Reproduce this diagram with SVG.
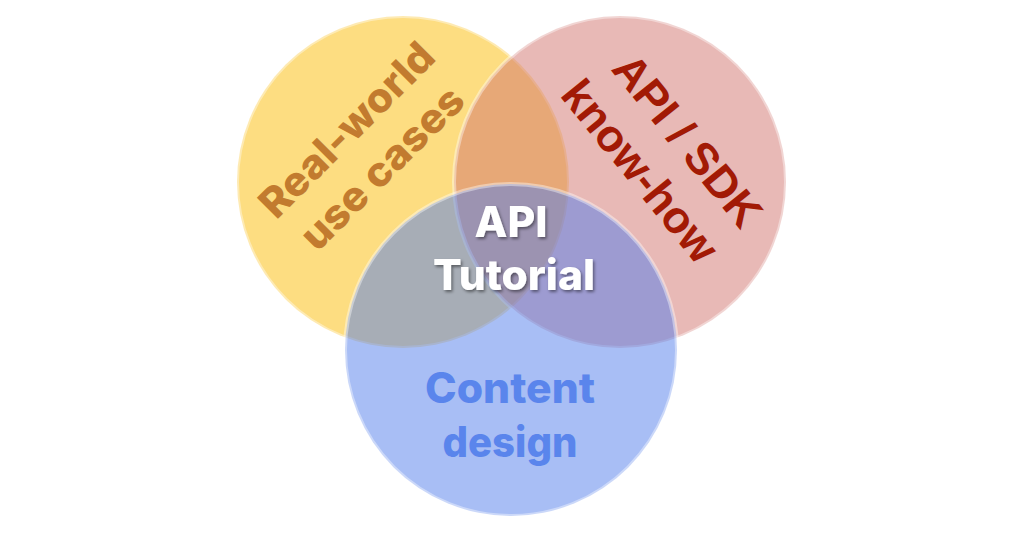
<svg xmlns="http://www.w3.org/2000/svg" width="1024" height="547" viewBox="0 0 1024 547">
<defs>
<style>
.c{fill-opacity:0.5;stroke:#ffffff;stroke-opacity:0.4;stroke-width:4}
.t{font-family:Inter,"Open Sans","Liberation Sans",sans-serif;font-weight:800;text-anchor:middle}
.r{font-family:"Liberation Sans",Arial,sans-serif;font-weight:700;text-anchor:middle;fill:#A21A05}
</style>
<filter id="sh" x="-20%" y="-30%" width="140%" height="160%">
<feDropShadow dx="1.5" dy="2" stdDeviation="1.5" flood-color="#000" flood-opacity="0.45"/>
</filter>
</defs>
<rect width="1024" height="547" fill="#ffffff"/>
<g id="usecases">
<circle class="c" cx="403" cy="182" r="166" fill="#FBBC04"/>
</g>
<g id="apisdk">
<circle class="c" cx="620" cy="182" r="166" fill="#D1736D"/>
</g>
<g id="contentdesign">
<circle class="c" cx="511" cy="350" r="166" fill="#517DEB"/>
</g>
<g id="labels">
<g transform="translate(347,130) rotate(-45)">
<text class="t" x="0" y="14" font-size="41" fill="#C27B2F" textLength="228" lengthAdjust="spacingAndGlyphs">Real-world</text>
<text class="t" x="-2" y="66" font-size="41" fill="#C27B2F" textLength="212" lengthAdjust="spacingAndGlyphs">use cases</text>
</g>
<g transform="translate(688,140) rotate(51)">
<text class="r" x="0" y="16" font-size="45">API / SDK</text>
<text class="r" x="-6" y="72" font-size="45">know-how</text>
</g>
<text class="t" x="511" y="237" font-size="42" fill="#ffffff" filter="url(#sh)" textLength="73" lengthAdjust="spacingAndGlyphs">API</text>
<text class="t" x="514" y="290" font-size="42" fill="#ffffff" filter="url(#sh)" textLength="162" lengthAdjust="spacingAndGlyphs">Tutorial</text>
<text class="t" x="510" y="403" font-size="42" fill="#5A85EC" textLength="170" lengthAdjust="spacingAndGlyphs">Content</text>
<text class="t" x="510" y="457" font-size="42" fill="#5A85EC" textLength="135" lengthAdjust="spacingAndGlyphs">design</text>
</g>
<g id="connectors"/>
</svg>
